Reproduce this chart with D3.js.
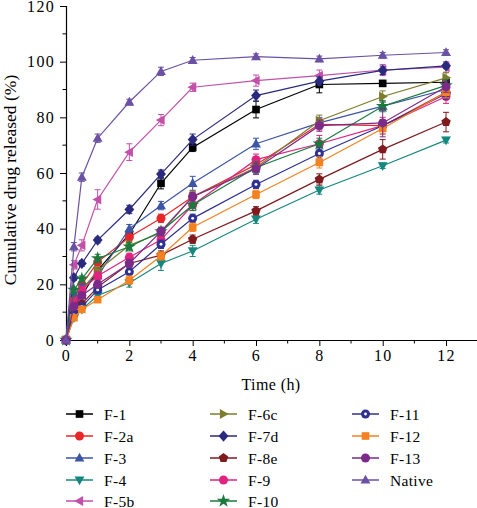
<!DOCTYPE html>
<html><head><meta charset="utf-8">
<script src="https://cdn.jsdelivr.net/npm/d3@7"></script>
<style>body{margin:0;background:#fff}svg{display:block}</style>
</head><body>
<svg id="c" width="477" height="508"></svg>
<script>
const times = [0, 0.25, 0.5, 1, 2, 3, 4, 6, 8, 10, 12];
const seriesNames = ["F-1","F-2a","F-3","F-4","F-5b","F-6c","F-7d","F-8e","F-9","F-10","F-11","F-12","F-13","Native"];
const colors = ["#000000","#e8262a","#3c55a5","#16877f","#c350a8","#7d7d2e","#2a2a7e","#7f1a1f","#e0237f","#1a7a3e","#2e3192","#f58220","#7b2a8a","#6a51a3"];
const shapes = ["square","circle","triUp","triDown","triLeft","triRight","diamond","pentagon","circle","star","dotCircle","square","circle","triUp"];

const vF1     = [0, 13, 16, 25, 38, 56.3, 69.2, 82.8, 91.8, 92.2, 92.6];
const vF2a    = [0, 15, 20, 28, 37, 43.7, 51.5, 63, 77.5, 77, 89];
const vF3     = [0, 16, 19, 23, 40, 48.3, 56.3, 70.5, 78, 84, 90];
const vF4     = [0, 8, 11, 16, 20.5, 27.5, 32, 43.4, 53.9, 62.6, 71.8];
const vF5b    = [0, 27, 34, 50.5, 67.5, 79, 90.8, 93.2, 95, 97, 98];
const vF6c    = [0, 14, 18, 25, 34, 38.5, 51.5, 62, 78.8, 87.5, 94.2];
const vF7d    = [0, 22.4, 27.5, 35.9, 46.9, 59.6, 72, 87.8, 93, 96.9, 98.5];
const vF8e    = [0, 10, 13, 19, 27.5, 30.5, 36.2, 46.4, 57.7, 68.5, 78.3];
const vF9     = [0, 14, 18, 23, 29.7, 36, 48.5, 64.8, 70.5, 77, 87.5];
const vF10    = [0, 18, 22, 29.3, 33.5, 39, 48.5, 62, 70.5, 84, 91.5];
const vF11    = [0, 9, 12, 18, 24.5, 34.4, 43.7, 55.9, 67, 77, 88.5];
const vF12    = [0, 8, 11, 14.5, 21.5, 30.2, 40.5, 52.3, 63.8, 76, 89];
const vF13    = [0, 12, 16, 20, 27.5, 39, 51.5, 61.5, 77, 78, 91];
const vNative = [0, 33.5, 58.5, 72.5, 85.5, 96.5, 100.5, 101.8, 101, 102.3, 103.3];
const allValues = [vF1,vF2a,vF3,vF4,vF5b,vF6c,vF7d,vF8e,vF9,vF10,vF11,vF12,vF13,vNative];

const eF1     = [0, 1, 1, 1, 1.5, 2, 1.5, 3, 3, 1, 1];
const eF2a    = [0, 1, 1, 1, 1.5, 1.5, 2, 2, 2, 2, 2];
const eF3     = [0, 1, 1, 1.5, 1.5, 1.5, 2.5, 2, 2, 1.5, 1.5];
const eF4     = [0, 1, 1, 1, 1.5, 2.5, 2, 1.5, 1.5, 1, 1];
const eF5b    = [0, 1.5, 2, 3.5, 3, 2, 1.5, 2, 2, 2, 2];
const eF6c    = [0, 1, 1, 1, 1.5, 1.5, 2, 2, 2, 2, 2];
const eF7d    = [0, 1, 1, 1, 1.5, 1.5, 2, 2, 1.5, 1.5, 1];
const eF8e    = [0, 1, 1, 1, 1, 1.5, 1.5, 1.5, 2, 3.5, 3.5];
const eF9     = [0, 1, 1, 1.5, 1.5, 1.5, 2, 2, 3, 3, 2.5];
const eF10    = [0, 1, 1, 1.5, 1.5, 1.5, 2, 2, 2, 2, 2];
const eF11    = [0, 1, 1, 1, 1, 1.5, 1.5, 1.5, 2, 2, 2];
const eF12    = [0, 1, 1, 1, 1.5, 1.5, 1.5, 1.5, 2, 2, 2];
const eF13    = [0, 1, 1, 1, 1.5, 1.5, 1.5, 2, 2, 5, 2];
const eNative = [0, 1.5, 1.5, 1.5, 1, 1.5, 1, 1, 1, 1, 1];
const allErrors = [eF1,eF2a,eF3,eF4,eF5b,eF6c,eF7d,eF8e,eF9,eF10,eF11,eF12,eF13,eNative];

const xTicks = [0, 2, 4, 6, 8, 10, 12];
const yTicks = [0, 20, 40, 60, 80, 100, 120];

const svg = d3.select("#c");
const x = d3.scaleLinear().domain([0, 13]).range([66, 477.7]);
const y = d3.scaleLinear().domain([0, 120]).range([340, 6]);
const font = "'Liberation Serif', 'Times New Roman', serif";

// axes
const yAxis = d3.axisLeft(y).tickValues(yTicks).tickSize(6).tickPadding(5);
const gy = svg.append("g").attr("transform", "translate(66,0)").call(yAxis);
gy.selectAll("text").attr("font-family", font).attr("font-size", 16).attr("letter-spacing", 1.3).attr("fill", "#000");
gy.append("g").selectAll("line").data(d3.range(10, 120, 20)).join("line")
  .attr("x1", -3.5).attr("x2", 0).attr("y1", d => y(d)).attr("y2", d => y(d)).attr("stroke", "#000");
const xAxis = d3.axisBottom(x).tickValues(xTicks).tickSize(6).tickPadding(4);
const gx = svg.append("g").attr("transform", "translate(0,340)").call(xAxis);
gx.selectAll("text").attr("font-family", font).attr("font-size", 16).attr("letter-spacing", 1.3).attr("fill", "#000");
gx.append("g").selectAll("line").data(d3.range(1, 13, 2)).join("line")
  .attr("y1", 0).attr("y2", 3.5).attr("x1", d => x(d)).attr("x2", d => x(d)).attr("stroke", "#000");
svg.selectAll(".domain").attr("stroke", "#000").attr("stroke-width", 1.2);
svg.selectAll(".tick line").attr("stroke", "#000");

svg.append("text").attr("x", 271).attr("y", 390).attr("text-anchor", "middle")
  .attr("font-family", font).attr("font-size", 16).attr("letter-spacing", 0.4).text("Time (h)");
svg.append("text").attr("transform", "translate(16,180) rotate(-90)").attr("text-anchor", "middle")
  .attr("font-family", font).attr("font-size", 17.5).text("Cumulative drug released (%)");

function marker(g, shape, color, cx, cy, r) {
  r = r || 4.5;
  const tri = (pts) => g.append("path").attr("d", "M" + pts.map(p => [cx + p[0] * r, cy + p[1] * r].join(",")).join("L") + "Z").attr("fill", color);
  switch (shape) {
    case "square": g.append("rect").attr("x", cx - r * 0.85).attr("y", cy - r * 0.85).attr("width", r * 1.7).attr("height", r * 1.7).attr("fill", color); break;
    case "circle": g.append("circle").attr("cx", cx).attr("cy", cy).attr("r", r).attr("fill", color); break;
    case "dotCircle":
      g.append("circle").attr("cx", cx).attr("cy", cy).attr("r", r).attr("fill", color);
      g.append("circle").attr("cx", cx).attr("cy", cy).attr("r", r * 0.32).attr("fill", "#fff"); break;
    case "triUp": tri([[0, -1.15], [1.1, 0.8], [-1.1, 0.8]]); break;
    case "triDown": tri([[0, 1.15], [1.1, -0.8], [-1.1, -0.8]]); break;
    case "triLeft": tri([[-1.15, 0], [0.8, -1.1], [0.8, 1.1]]); break;
    case "triRight": tri([[1.15, 0], [-0.8, -1.1], [-0.8, 1.1]]); break;
    case "diamond": tri([[0, -1.25], [1.1, 0], [0, 1.25], [-1.1, 0]]); break;
    case "pentagon": {
        const pts = d3.range(5).map(i => { const a = -Math.PI / 2 + i * 2 * Math.PI / 5; return [Math.cos(a) * 1.1, Math.sin(a) * 1.1]; });
        tri(pts);
      } break;
    case "star": g.append("path").attr("d", d3.symbol(d3.symbolStar, r * r * 2.8)()).attr("transform", `translate(${cx},${cy})`).attr("fill", color); break;
  }
}

const line = d3.line().x(d => x(d[0])).y(d => y(d[1]));
seriesNames.forEach((name, i) => {
  const g = svg.append("g");
  const pts = times.map((t, j) => [t, allValues[i][j], allErrors[i][j]]);
  g.append("path").attr("d", line(pts)).attr("fill", "none").attr("stroke", colors[i]).attr("stroke-width", 1.2);
  pts.forEach(p => {
    if (p[2] > 0) {
      const y1 = y(p[1] - p[2]), y2 = y(p[1] + p[2]), cx = x(p[0]);
      g.append("path").attr("d", `M${cx},${y1}V${y2}M${cx - 3},${y1}H${cx + 3}M${cx - 3},${y2}H${cx + 3}`)
        .attr("stroke", colors[i]).attr("stroke-width", 1).attr("fill", "none");
    }
    marker(g, shapes[i], colors[i], x(p[0]), y(p[1]));
  });
});

// legend
const colX = [66, 210, 352];
const rowY = [414, 436, 458, 480, 501];
const perCol = [5, 5, 4];
let idx = 0;
perCol.forEach((n, c) => {
  for (let r = 0; r < n; r++, idx++) {
    const g = svg.append("g");
    const lx = colX[c], ly = rowY[r];
    g.append("line").attr("x1", lx).attr("x2", lx + 27).attr("y1", ly).attr("y2", ly).attr("stroke", colors[idx]).attr("stroke-width", 1.5);
    marker(g, shapes[idx], colors[idx], lx + 13.5, ly, 4.5);
    g.append("text").attr("x", lx + 38).attr("y", ly + 5.5).attr("font-family", font).attr("font-size", 15.5).attr("letter-spacing", 0.3).text(seriesNames[idx]);
  }
});
</script>
</body></html>
